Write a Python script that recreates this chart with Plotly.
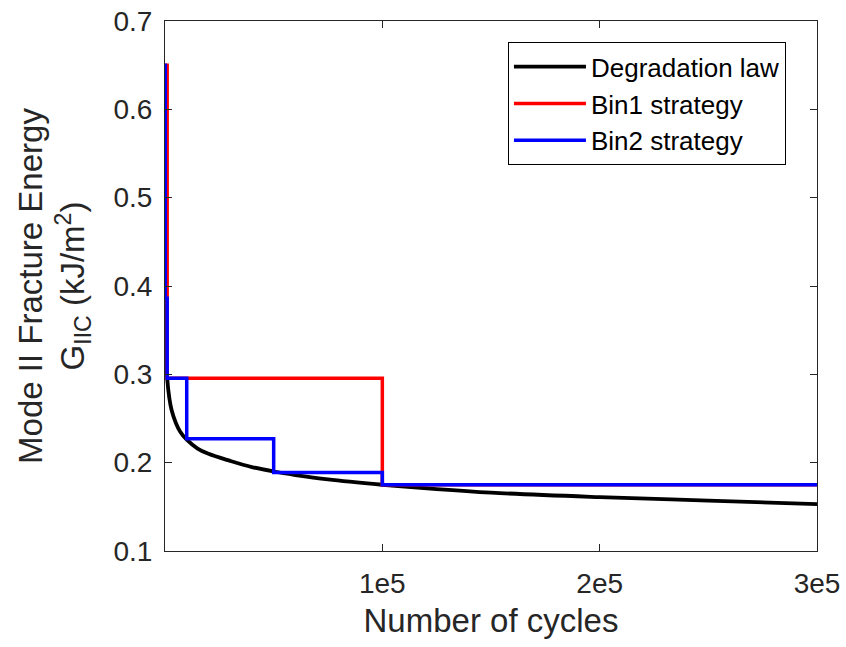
import plotly.graph_objects as go

# Degradation law
cycles_law = [1, 10, 100, 300, 1000, 2000, 3000, 5000, 7000, 10000, 15000, 20000, 30000,
              40000, 50000, 60000, 75000, 100000, 125000, 150000, 200000, 250000, 300000]
g_law = [0.65, 0.50, 0.386, 0.34, 0.296, 0.273, 0.260, 0.245, 0.235, 0.226, 0.216, 0.210,
         0.202, 0.195, 0.190, 0.186, 0.181, 0.175, 0.170, 0.166, 0.161, 0.157, 0.153]

# Bin1 strategy (step)
cycles_bin1 = [1, 1000, 1000, 100000, 100000, 300000]
g_bin1 = [0.65, 0.65, 0.2955, 0.2955, 0.175, 0.175]

# Bin2 strategy (step)
cycles_bin2 = [1, 100, 100, 1000, 1000, 10000, 10000, 50000, 50000, 100000, 100000, 300000]
g_bin2 = [0.65, 0.65, 0.386, 0.386, 0.2955, 0.2955, 0.227, 0.227, 0.189, 0.189, 0.175, 0.175]

x_tickvals = [100000, 200000, 300000]
x_ticktext = ["1e5", "2e5", "3e5"]
y_tickvals = [0.1, 0.2, 0.3, 0.4, 0.5, 0.6, 0.7]
y_ticktext = ["0.1", "0.2", "0.3", "0.4", "0.5", "0.6", "0.7"]

fig = go.Figure()
fig.add_trace(go.Scatter(x=cycles_law, y=g_law, mode="lines", name="Degradation law",
                         line=dict(color="black", width=3.8, shape="spline", smoothing=1.0)))
fig.add_trace(go.Scatter(x=cycles_bin1, y=g_bin1, mode="lines", name="Bin1 strategy",
                         line=dict(color="#ff0000", width=3.5)))
fig.add_trace(go.Scatter(x=cycles_bin2, y=g_bin2, mode="lines", name="Bin2 strategy",
                         line=dict(color="#0000ff", width=3.5)))

axis_col = "#262626"
font_fam = "Liberation Sans, Arial, sans-serif"

fig.update_layout(
    width=846, height=647,
    margin=dict(l=165, r=29, t=21, b=96, autoexpand=False),
    paper_bgcolor="white", plot_bgcolor="white",
    font=dict(family=font_fam, size=28, color=axis_col),
    showlegend=True,
    legend=dict(x=0.526, y=0.96, xanchor="left", yanchor="top",
                bgcolor="white", bordercolor="black", borderwidth=1,
                font=dict(size=26, color="black"), tracegroupgap=0,
                itemwidth=72),
    xaxis=dict(range=[0, 300000], tickvals=x_tickvals, ticktext=x_ticktext,
               ticks="inside", ticklen=7, tickcolor=axis_col, tickwidth=1,
               showline=True, linecolor=axis_col, linewidth=1, mirror="ticks",
               showgrid=False, zeroline=False, ticklabelstandoff=7, automargin=False,
               title=dict(text="Number of cycles", font=dict(size=33, color=axis_col), standoff=11),
               tickfont=dict(size=28, color=axis_col)),
    yaxis=dict(range=[0.1, 0.7], tickvals=y_tickvals, ticktext=y_ticktext,
               ticks="inside", ticklen=7, tickcolor=axis_col, tickwidth=1,
               showline=True, linecolor=axis_col, linewidth=1, mirror="ticks",
               showgrid=False, zeroline=False, ticklabelstandoff=6, automargin=False,
               title=dict(text="Mode II Fracture Energy<br>G<sub>IIC</sub> (kJ/m<sup>2</sup>)",
                          font=dict(size=33, color=axis_col), standoff=18),
               tickfont=dict(size=28, color=axis_col)),
)

fig.write_html("out.html")
